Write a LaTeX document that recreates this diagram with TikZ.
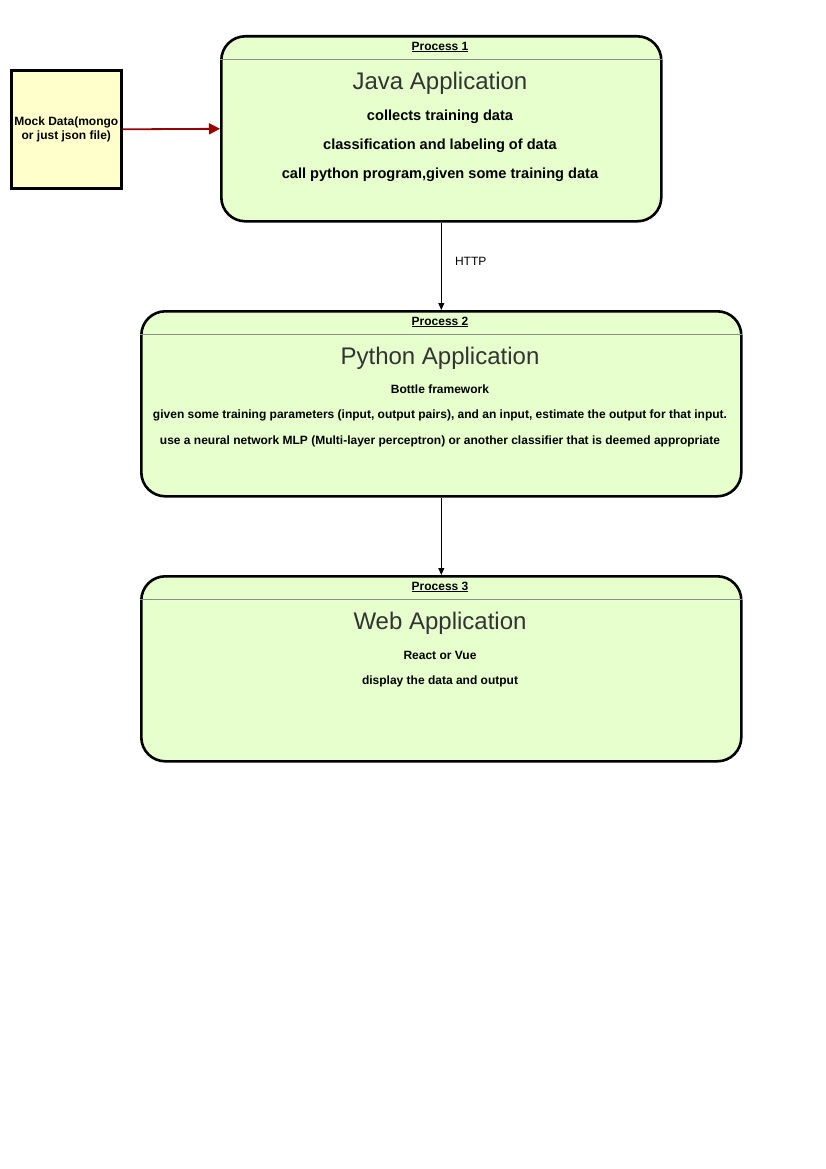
\documentclass[tikz,border=0pt]{standalone}
\usepackage{fontspec}
\setmainfont{Liberation Sans}
\usetikzlibrary{arrows.meta}
\definecolor{procfill}{HTML}{E6FFCC}
\definecolor{mockfill}{HTML}{FFFFCC}
\definecolor{redarrow}{HTML}{990000}
\definecolor{titlegray}{HTML}{333333}
\tikzset{
  proc/.style={draw=black, line width=2.6pt, fill=procfill, rounded corners=24pt, inner sep=0pt, anchor=north west},
  mock/.style={draw=black, line width=2.6pt, fill=mockfill, inner sep=0pt, anchor=north west, align=center, font=\bfseries\fontsize{12}{14}\selectfont},
  hdr/.style={font=\bfseries\fontsize{12}{14}\selectfont, inner sep=0pt},
  ttl/.style={font=\fontsize{24}{28}\selectfont, text=titlegray, inner sep=0pt},
  bodyA/.style={font=\bfseries\fontsize{14.6}{17}\selectfont, inner sep=0pt},
  bodyB/.style={font=\bfseries\fontsize{12}{14}\selectfont, inner sep=0pt},
  hline/.style={draw=black!45, line width=0.8pt},
  conn/.style={draw=black, line width=0.8pt, -{Triangle[length=7pt,width=6pt]}},
  redconn/.style={draw=redarrow, line width=1.8pt, -{Triangle[length=11pt,width=11pt]}},
}
\begin{document}
\begin{tikzpicture}[x=1pt,y=-1pt]
\useasboundingbox (0,0) rectangle (826,1169);
% mock data
\node[mock, minimum width=110pt, minimum height=118pt] (mock) at (10,69) {Mock Data(mongo\\or just json file)};
% process 1
\node[proc, minimum width=440pt, minimum height=185pt] (p1) at (220,35) {};
\draw[hline] (p1.west |- 0,59) -- (p1.east |- 0,59);
\node[hdr] (p1h) at (440,47) {\underline{Process 1}};
\node[ttl] (p1t) at (440,83) {Java Application};
\node[bodyA] (p1a) at (440,117) {collects training data};
\node[bodyA] (p1b) at (440,146) {classification and labeling of data};
\node[bodyA] (p1c) at (440,175) {call python program,given some training data};
% process 2
\node[proc, minimum width=600pt, minimum height=185pt] (p2) at (140,310) {};
\draw[hline] (p2.west |- 0,334) -- (p2.east |- 0,334);
\node[hdr] (p2h) at (440,322) {\underline{Process 2}};
\node[ttl] (p2t) at (440,358) {Python Application};
\node[bodyB] (p2a) at (440,389) {Bottle framework};
\node[bodyB] (p2b) at (440,415) {given some training parameters (input, output pairs), and an input, estimate the output for that input.};
\node[bodyB] (p2c) at (440,441) {use a neural network MLP (Multi-layer perceptron) or another classifier that is deemed appropriate};
% process 3
\node[proc, minimum width=600pt, minimum height=185pt] (p3) at (140,575) {};
\draw[hline] (p3.west |- 0,599) -- (p3.east |- 0,599);
\node[hdr] (p3h) at (440,587) {\underline{Process 3}};
\node[ttl] (p3t) at (440,623) {Web Application};
\node[bodyB] (p3a) at (440,655) {React or Vue};
\node[bodyB] (p3b) at (440,681) {display the data and output};
% connectors
\draw[redconn] (mock.east) -- (p1.west);
\draw[conn] (p1.south) -- node[right=10pt, yshift=5pt, font=\fontsize{12}{14}\selectfont] (http) {HTTP} (p2.north);
\draw[conn] (p2.south) -- (p3.north);
\end{tikzpicture}
\end{document}
